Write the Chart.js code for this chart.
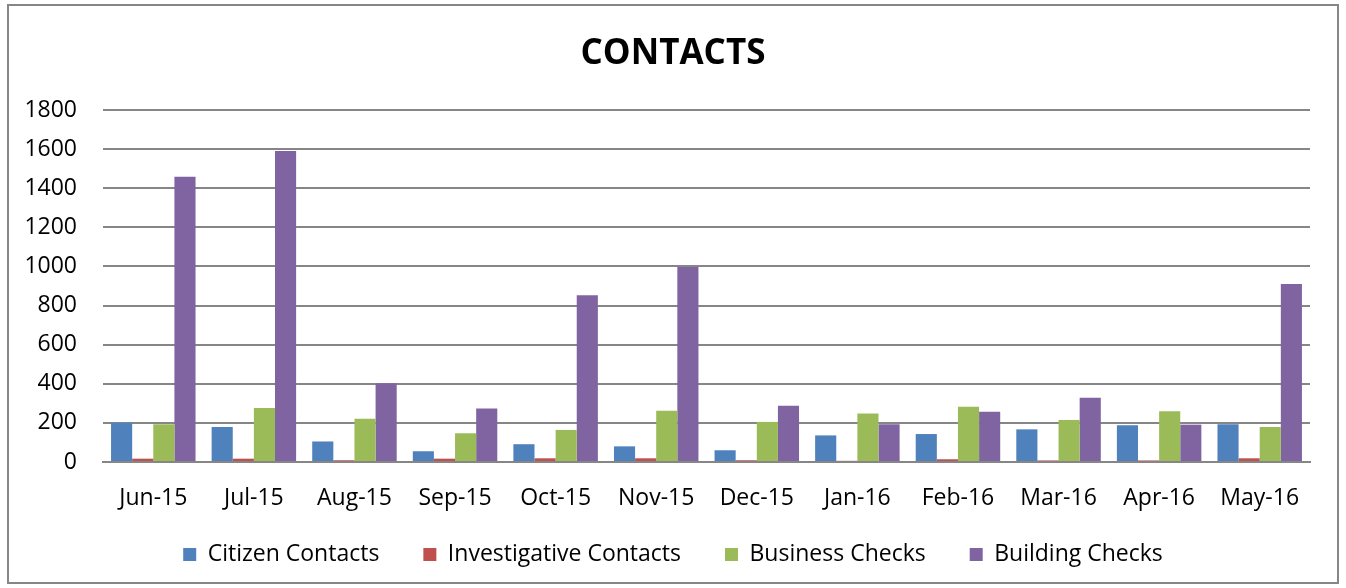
<!DOCTYPE html>
<html>
<head>
<meta charset="utf-8">
<script src="https://cdn.jsdelivr.net/npm/chart.js@4/dist/chart.umd.min.js"></script>
<style>
  html, body { margin: 0; padding: 0; background: #fff; }
  #wrap { width: 1346px; height: 588px; position: relative; }
</style>
</head>
<body>
<div id="wrap"><canvas id="c" width="1346" height="588"></canvas></div>
<script>
const categories = ["Jun-15","Jul-15","Aug-15","Sep-15","Oct-15","Nov-15","Dec-15","Jan-16","Feb-16","Mar-16","Apr-16","May-16"];
const citizenContacts = [200, 179, 105, 55, 91, 80, 60, 136, 143, 167, 188, 193];
const investigativeContacts = [17, 17, 9, 17, 19, 19, 9, 6, 14, 8, 8, 19];
const businessChecks = [193, 276, 221, 147, 164, 262, 205, 248, 283, 215, 260, 179];
const buildingChecks = [1459, 1590, 403, 274, 853, 997, 288, 193, 257, 328, 191, 910];
const yTicks = [0, 200, 400, 600, 800, 1000, 1200, 1400, 1600, 1800];

const FONT = "'Open Sans', sans-serif";

const borderPlugin = {
  id: 'outerBorder',
  beforeDraw(chart) {
    const ctx = chart.ctx;
    ctx.save();
    ctx.fillStyle = '#fff';
    ctx.fillRect(0, 0, chart.width, chart.height);
    ctx.strokeStyle = '#868686';
    ctx.lineWidth = 2;
    ctx.strokeRect(8, 5, 1330, 578);
    ctx.restore();
  }
};

// let tick labels draw outside the (narrow) scale boxes
const noLabelClip = axis => { axis._computeLabelArea = () => undefined; };

new Chart(document.getElementById('c'), {
  type: 'bar',
  data: {
    labels: categories,
    datasets: [
      { label: 'Citizen Contacts', data: citizenContacts, backgroundColor: '#4F81BD' },
      { label: 'Investigative Contacts', data: investigativeContacts, backgroundColor: '#C0504D' },
      { label: 'Business Checks', data: businessChecks, backgroundColor: '#9BBB59' },
      { label: 'Building Checks', data: buildingChecks, backgroundColor: '#8064A2' }
    ]
  },
  options: {
    responsive: false,
    animation: false,
    devicePixelRatio: 1,
    layout: { padding: { top: 18, right: 36, bottom: 12, left: 36 } },
    datasets: { bar: { categoryPercentage: 0.84, barPercentage: 1.0 } },
    plugins: {
      title: {
        display: true,
        text: 'CONTACTS',
        color: '#000',
        font: { family: FONT, size: 35, weight: 'bold' },
        padding: { top: 15, bottom: 35 }
      },
      legend: {
        position: 'bottom',
        labels: {
          color: '#000',
          font: { family: FONT, size: 23 },
          boxWidth: 13,
          boxHeight: 13,
          padding: 44
        }
      },
      tooltip: { enabled: false }
    },
    scales: {
      x: {
        afterFit(axis) { axis.height = 37; noLabelClip(axis); },
        grid: { display: false, drawTicks: false },
        border: { display: true, color: '#868686', width: 2 },
        ticks: { color: '#000', font: { family: FONT, size: 23 }, padding: 23, maxRotation: 0, autoSkip: false }
      },
      y: {
        min: 0,
        max: 1800,
        afterBuildTicks(axis) { axis.ticks = yTicks.map(v => ({ value: v })); },
        afterFit(axis) { axis.width = 67; noLabelClip(axis); },
        grid: { color: '#868686', lineWidth: 2, drawTicks: false },
        border: { display: false },
        ticks: { color: '#000', font: { family: FONT, size: 23 }, padding: 26, callback: v => String(v) }
      }
    }
  },
  plugins: [borderPlugin]
});
</script>
</body>
</html>
